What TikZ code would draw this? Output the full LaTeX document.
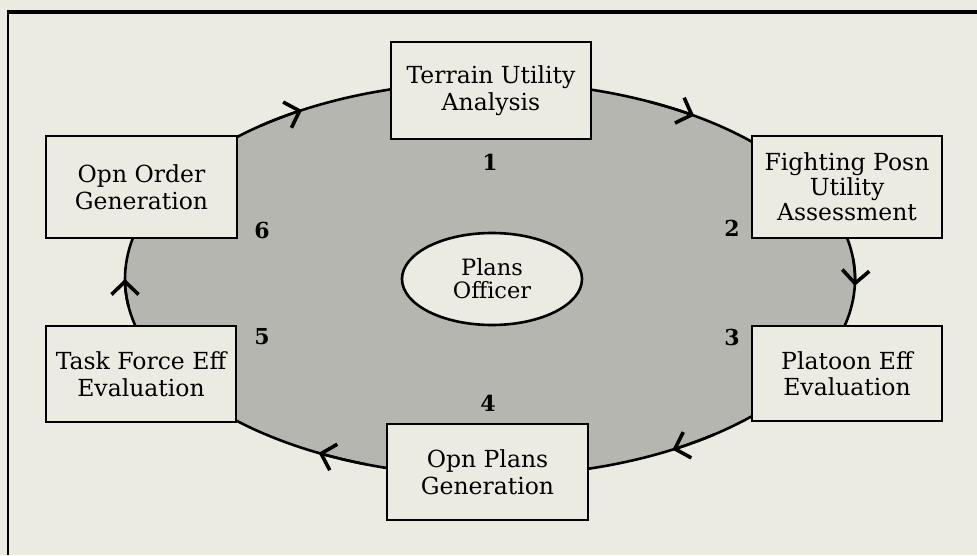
\documentclass[tikz,border=0pt]{standalone}
\usepackage{fontspec}
\setmainfont{DejaVu Serif}
\usetikzlibrary{arrows.meta,calc,shapes.geometric}
\definecolor{paper}{RGB}{236,235,226}
\definecolor{dotfill}{RGB}{182,182,176}
\begin{document}
\begin{tikzpicture}[x=1pt,y=1pt,
  stage/.style={draw, line width=2.6pt, fill=paper, align=center, inner sep=0pt,
    font=\fontsize{23.5}{26.5}\selectfont},
  hub/.style={draw, line width=2.6pt, fill=paper, ellipse, align=center, inner sep=0pt,
    font=\fontsize{22.5}{23}\selectfont},
  stepno/.style={font=\fontsize{22}{22}\selectfont\bfseries},
  cycle/.style={line width=2.6pt},
  flow/.style={line width=2.6pt, -{Straight Barb[length=13pt,width=27pt,line width=3.6pt]}},
  rim/.style={line cap=butt}]
% page and frame
\fill[paper] (0,0) rectangle (977,555);
\useasboundingbox (0,0) rectangle (977,555);
\coordinate (frameTR) at (977,543);
\coordinate (frameTL) at (8,543);
\coordinate (frameBL) at (8,0);
\draw[rim, line width=3.8pt] (frameTR) -- ([xshift=-1.4pt]frameTL);
\draw[rim, line width=2.8pt] (frameTL) -- (frameBL);

% the shaded cycle
\coordinate (C) at (490,276);
\filldraw[cycle, fill=dotfill] (C) ellipse [x radius=365pt, y radius=197pt];

% direction marks along the cycle (clockwise)
\foreach \t in {121,56,-2,-60,-118,180}
  \draw[flow] ($(C)+(\t+8:365pt and 197pt)$)
    arc[start angle=\t+8, end angle=\t, x radius=365pt, y radius=197pt];

% stages
\node[stage, minimum width=200pt, minimum height=97pt]  (terrain)  at (491,464.5) {Terrain Utility\\Analysis};
\node[stage, minimum width=190pt, minimum height=102pt, font=\fontsize{23.5}{25}\selectfont] (fighting) at (847,368) {Fighting Posn\\Utility\\Assessment};
\node[stage, minimum width=190pt, minimum height=95pt]  (platoon)  at (847,181.5) {Platoon Eff\\Evaluation};
\node[stage, minimum width=201pt, minimum height=96pt]  (plans)    at (487.5,83)  {Opn Plans\\Generation};
\node[stage, minimum width=190pt, minimum height=96pt]  (taskforce) at (141,181)  {Task Force Eff\\Evaluation};
\node[stage, minimum width=191pt, minimum height=102pt] (order)    at (141.5,368) {Opn Order\\Generation};

% centre
\node[hub, minimum width=180pt, minimum height=92pt] (officer) at (492,276) {Plans\\Officer};

% step numbers
\node[stepno] (n1) at (490,393) {1};
\node[stepno] (n2) at (732,327) {2};
\node[stepno] (n3) at (732,218) {3};
\node[stepno] (n4) at (488,152) {4};
\node[stepno] (n5) at (262,218) {5};
\node[stepno] (n6) at (262,325) {6};
\end{tikzpicture}
\end{document}
